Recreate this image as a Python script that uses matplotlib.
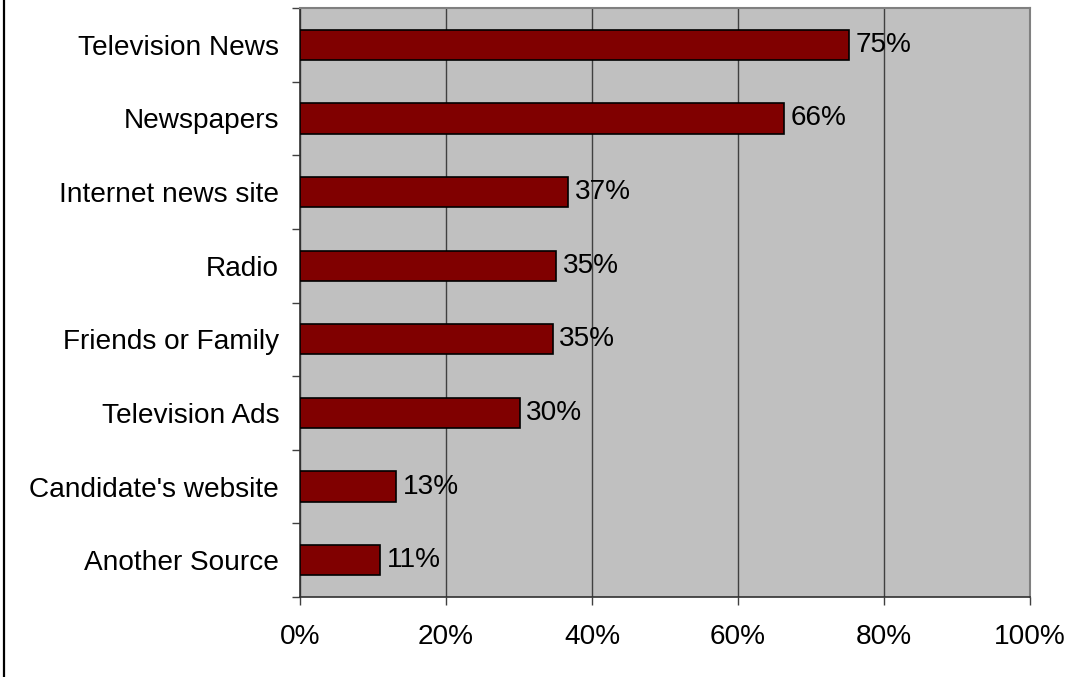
import numpy as np
from matplotlib import pyplot as plt
from matplotlib.lines import Line2D

plt.rcParams['font.family'] = ['Liberation Sans', 'DejaVu Sans']

# news sources, top to bottom, and the share of respondents using each (%)
sources = ["Television News", "Newspapers", "Internet news site", "Radio",
           "Friends or Family", "Television Ads", "Candidate's website", "Another Source"]
shares = [75.2, 66.3, 36.7, 35.1, 34.6, 30.1, 13.2, 11.0]
xticks = [0, 20, 40, 60, 80, 100]

fs = 20.2
fig = plt.figure(figsize=(10.78, 6.77), dpi=100)
ax = fig.add_axes([300/1078, 1 - 597/677, 730/1078, 589/677])
ax.set_facecolor("#c0c0c0")

y = np.arange(len(sources))[::-1]
ax.barh(y, shares, height=0.41, color="#800000", edgecolor="black", linewidth=1.2, zorder=3)
for yi, v in zip(y, shares):
    ax.text(v + 0.9, yi, "%d%%" % round(v), va="center", ha="left", fontsize=fs, zorder=4)

ax.set_xlim(0, 100)
ax.set_ylim(-0.5, len(sources) - 0.5)
ax.set_xticks(xticks)
ax.set_xticklabels(["%d%%" % t for t in xticks], fontsize=fs)
ax.set_yticks(y)
ax.set_yticklabels(sources, fontsize=fs)
ax.set_yticks(np.arange(len(sources) + 1) - 0.5, minor=True)

ax.xaxis.grid(True, color="#404040", linewidth=1.0, zorder=1)
ax.set_axisbelow(True)
ax.tick_params(axis="y", which="major", length=0, pad=15)
ax.tick_params(axis="y", which="minor", length=5.5, width=1.0, color="#404040")
ax.tick_params(axis="x", length=6, width=1.0, color="#404040", pad=13.5)

for side in ["top", "right"]:
    ax.spines[side].set_color("#808080")
    ax.spines[side].set_linewidth(1.5)
for side in ["left", "bottom"]:
    ax.spines[side].set_color("#303030")
    ax.spines[side].set_linewidth(1.2)

# frame line down the left edge of the figure
fig.add_artist(Line2D([3.5/1078, 3.5/1078], [0, 1], color="black", linewidth=1.6))

plt.savefig("out.png", dpi=100)
